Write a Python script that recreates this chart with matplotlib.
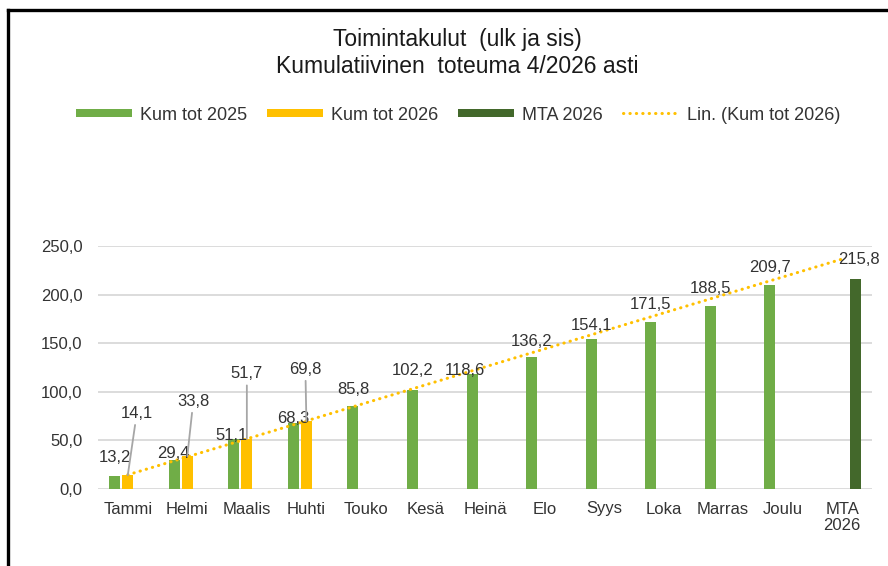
import numpy as np
import matplotlib
matplotlib.use("Agg")
import matplotlib.pyplot as plt
from matplotlib.lines import Line2D

plt.rcParams['font.family'] = ['Liberation Sans', 'DejaVu Sans']

# data
months = ["Tammi", "Helmi", "Maalis", "Huhti", "Touko", "Kesä", "Heinä",
          "Elo", "Syys", "Loka", "Marras", "Joulu", "MTA\n2026"]
kum_2025 = [13.2, 29.4, 51.1, 68.3, 85.8, 102.2, 118.6, 136.2, 154.1, 171.5, 188.5, 209.7]
kum_2026 = [14.1, 33.8, 51.7, 69.8]
mta_2026 = [215.8]
yticks = [0, 50, 100, 150, 200, 250]

# label placement (pixels: horizontal shift, height of label centre above bar top)
dx_2025 = [0, -1, -2, 0, 0, 0, -7, 0, 0, 0, 0, 0]
dy_2025 = [19, 7, 4, 4, 16, 19, 3, 15, 14, 18, 17, 18]
dx_2026 = [9, 6, 0, -1]
dy_2026 = [62, 55, 65, 52]

GREEN = '#70AD47'
YELLOW = '#FFC000'
DKGREEN = '#43682B'
TXT = '#333333'

def fmt(v):
    return f"{v:.1f}".replace('.', ',')

px = 72 / 100  # pixel -> points

fig = plt.figure(figsize=(8.88, 5.66), dpi=100)
ax = fig.add_axes([98 / 888, 1 - 489 / 566, 774 / 888, 243 / 566])

x = np.arange(len(months))
w = 0.185
off = 0.218

x25 = x[:len(kum_2025)] - off
x26 = x[:len(kum_2026)]
xm = x[-1:] + off

ax.bar(x25, kum_2025, width=w, color=GREEN, zorder=2)
ax.bar(x26, kum_2026, width=w, color=YELLOW, zorder=2)
ax.bar(xm, mta_2026, width=w, color=DKGREEN, zorder=2)

# linear trend of 2026 series, forecast to the end (like Excel)
k, b = np.polyfit(np.arange(1, len(kum_2026) + 1), kum_2026, 1)
xt = np.arange(1, len(months) + 1)
ax.plot(x, k * xt + b, color=YELLOW, lw=2.2, linestyle=(0, (0.1, 2.0)),
        dash_capstyle='round', zorder=3, clip_on=False)

# data labels
for xi, v, dx, dy in zip(x25, kum_2025, dx_2025, dy_2025):
    ax.annotate(fmt(v), (xi, v), xytext=(dx * px, dy * px), textcoords='offset points',
                ha='center', va='center', fontsize=12, color=TXT, zorder=5,
                annotation_clip=False)
for xi, v, dx, dy in zip(x26, kum_2026, dx_2026, dy_2026):
    ax.annotate(fmt(v), (xi, v), xytext=(dx * px, dy * px), textcoords='offset points',
                ha='center', va='center', fontsize=12, color=TXT, zorder=5,
                annotation_clip=False,
                arrowprops=dict(arrowstyle='-', color='#A6A6A6', lw=1.3,
                                shrinkA=1, shrinkB=0))
for xi, v in zip(xm, mta_2026):
    ax.annotate(fmt(v), (xi, v), xytext=(4 * px, 20 * px), textcoords='offset points',
                ha='center', va='center', fontsize=12, color=TXT, zorder=5,
                annotation_clip=False)

ax.set_xlim(-0.5, len(months) - 0.5)
ax.set_ylim(0, 250)
ax.set_yticks(yticks)
ax.set_yticklabels([fmt(t) for t in yticks], fontsize=12, color=TXT)
ax.set_xticks(x)
ax.set_xticklabels(months, fontsize=12, color=TXT, linespacing=1.1)
ax.tick_params(axis='both', length=0)
ax.tick_params(axis='y', pad=11)
ax.tick_params(axis='x', pad=9)
for s in ax.spines.values():
    s.set_visible(False)
ax.yaxis.grid(True, color='#D9D9D9', lw=1.3)
ax.set_axisbelow(True)

fig.text(457 / 888, 1 - 53 / 566, "Toimintakulut  (ulk ja sis)\nKumulatiivinen  toteuma 4/2026 asti",
         ha='center', va='center', fontsize=16.5, color='#1a1a1a', linespacing=1.2)

handles = [
    Line2D([], [], color=GREEN, lw=8 * px, solid_capstyle='butt'),
    Line2D([], [], color=YELLOW, lw=8 * px, solid_capstyle='butt'),
    Line2D([], [], color=DKGREEN, lw=8 * px, solid_capstyle='butt'),
    Line2D([], [], color=YELLOW, lw=2.2, linestyle=(0, (0.1, 2.0)), dash_capstyle='round'),
]
labels = ["Kum tot 2025", "Kum tot 2026", "MTA 2026", "Lin. (Kum tot 2026)"]
fig.legend(handles, labels, loc='center', bbox_to_anchor=(458 / 888, 1 - 115 / 566),
           ncol=4, frameon=False, fontsize=13, handlelength=3.1, handletextpad=0.45,
           columnspacing=1.1, labelcolor=TXT)

# chart border (cropped at right and bottom)
fig.add_artist(Line2D([8 / 888, 8 / 888], [0, 1 - 10 / 566], transform=fig.transFigure,
                      color='black', lw=2.4, solid_capstyle='projecting'))
fig.add_artist(Line2D([8 / 888, 1], [1 - 10 / 566, 1 - 10 / 566], transform=fig.transFigure,
                      color='black', lw=2.4, solid_capstyle='projecting'))

fig.savefig("out.png", dpi=100)
